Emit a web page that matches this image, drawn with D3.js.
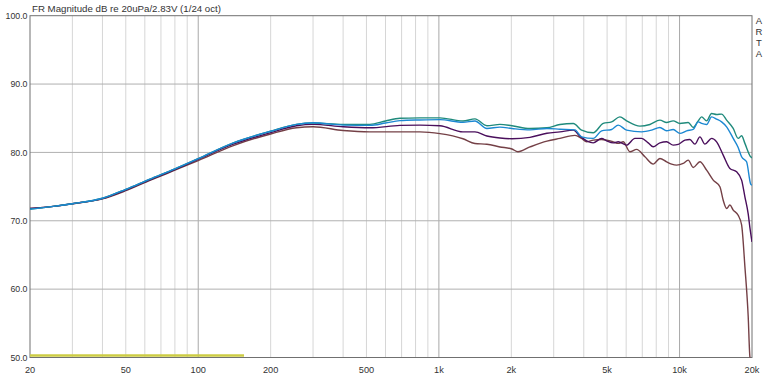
<!DOCTYPE html>
<html>
<head>
<meta charset="utf-8">
<script src="https://cdn.jsdelivr.net/npm/d3@7"></script>
<style>
  html, body { margin: 0; padding: 0; background: #fff; }
  svg { display: block; font-family: "Liberation Sans", Arial, sans-serif; }
</style>
</head>
<body>
<div id="chart"></div>
<script>
// frequency (Hz) / level (dB) pairs
const tealFreq  = [20, 25, 30, 40, 50, 63, 80, 100, 140, 200, 256, 300, 400, 517, 600, 689, 834, 1010, 1259, 1412, 1583, 1794, 2012, 2390, 2812, 3184, 3618, 3918, 4378, 4818, 5222, 5650, 6026, 6844, 7532, 8288, 8836, 9410, 10032, 10862, 11396, 11954, 12350, 12956, 13590, 14256, 14954, 15686, 16708, 17522, 18106, 18686, 19750, 20000];
const tealDb    = [71.7, 72.1, 72.5, 73.3, 74.6, 76.1, 77.6, 79.1, 81.4, 83.1, 84.1, 84.3, 84.1, 84.1, 84.6, 85.0, 85.05, 85.06, 84.6, 84.9, 83.9, 84.1, 83.9, 83.5, 83.6, 84.09, 84.24, 83.26, 82.87, 84.24, 84.47, 85.2, 84.62, 83.84, 84.09, 84.72, 84.38, 84.62, 84.24, 84.38, 83.65, 84.62, 85.2, 84.62, 85.7, 85.55, 85.6, 84.72, 83.51, 82.05, 82.43, 81.32, 79.36, 79.2];

const blueFreq  = [20, 25, 30, 40, 50, 63, 80, 100, 140, 200, 256, 300, 400, 517, 600, 689, 834, 1010, 1259, 1412, 1583, 1794, 2012, 2390, 2812, 3184, 3676, 3918, 4378, 4746, 5222, 5562, 6026, 6956, 7656, 8288, 8836, 9410, 10032, 10698, 11396, 11954, 12350, 12956, 13590, 14256, 14954, 15686, 16708, 17522, 18106, 18990, 19750, 20000];
const blueDb    = [71.7, 72.1, 72.5, 73.3, 74.6, 76.1, 77.6, 79.1, 81.4, 83.1, 84.1, 84.35, 84.0, 83.95, 84.3, 84.65, 84.75, 84.8, 84.4, 84.6, 83.5, 83.7, 83.5, 83.3, 83.5, 83.4, 83.3, 82.28, 82.05, 83.16, 83.36, 84.0, 83.26, 83.01, 83.26, 83.65, 83.16, 83.36, 82.78, 83.16, 83.36, 84.47, 84.24, 84.09, 85.2, 84.87, 84.47, 83.74, 82.05, 80.73, 79.36, 78.63, 75.37, 75.2];

const purpleFreq = [20, 25, 30, 40, 50, 63, 80, 100, 140, 200, 256, 300, 400, 517, 689, 834, 1010, 1259, 1412, 1583, 1794, 2012, 2390, 2812, 3184, 3618, 3855, 4110, 4378, 4746, 4978, 5302, 5562, 6026, 6524, 6956, 7410, 7772, 8288, 8836, 9410, 9872, 10524, 11042, 11584, 12150, 12746, 13590, 14256, 15184, 16188, 17258, 18106, 18686, 19286, 19604, 20000];
const purpleDb   = [71.8, 72.1, 72.5, 73.25, 74.5, 76.0, 77.5, 79.0, 81.2, 82.9, 83.9, 84.1, 83.75, 83.6, 83.95, 84.0, 83.9, 83.0, 83.0, 82.4, 82.1, 82.0, 82.2, 82.8, 83.0, 83.26, 82.38, 81.7, 81.4, 82.05, 81.7, 81.4, 81.55, 81.07, 82.05, 82.05, 81.4, 80.82, 81.4, 81.55, 81.07, 81.17, 81.8, 81.9, 81.21, 82.28, 81.21, 82.05, 81.55, 79.61, 77.66, 77.16, 75.95, 73.5, 71.0, 69.0, 66.9];

const brownFreq = [20, 25, 30, 40, 50, 63, 80, 100, 140, 200, 256, 300, 400, 517, 689, 834, 1010, 1259, 1412, 1583, 1794, 2012, 2130, 2390, 2812, 3184, 3676, 3918, 4110, 4378, 4746, 4978, 5302, 5562, 5832, 6220, 6632, 7180, 7772, 8288, 8836, 9268, 9722, 10354, 10862, 11396, 12150, 12956, 13800, 14712, 15184, 15686, 16188, 16708, 17522, 18106, 18686, 19286, 19604, 20000];
const brownDb   = [71.8, 72.1, 72.5, 73.2, 74.4, 75.9, 77.4, 78.8, 81.0, 82.7, 83.6, 83.75, 83.2, 83.0, 83.0, 83.0, 82.75, 82.0, 81.3, 81.2, 80.8, 80.5, 80.1, 80.8, 81.65, 82.05, 82.5, 82.05, 81.55, 81.8, 81.9, 81.8, 81.55, 81.32, 81.55, 80.09, 80.44, 79.36, 78.29, 79.12, 78.63, 78.29, 78.14, 78.39, 78.87, 77.8, 78.63, 77.41, 75.95, 74.97, 73.0, 71.8, 72.3, 71.56, 70.8, 69.4, 63.3, 56.0, 50.1, 49.0];

// yellow range marker along the bottom
const markerFreq = [20, 155];
const markerDb   = [50.3, 50.3];

const xTickValues = [20, 50, 100, 200, 500, 1000, 2000, 5000, 10000, 20000];
const xTickLabels = ['20', '50', '100', '200', '500', '1k', '2k', '5k', '10k', '20k'];
const yTickValues = [50, 60, 70, 80, 90, 100];

const title = 'FR Magnitude dB re 20uPa/2.83V (1/24 oct)';

let dim = { width: 768, height: 376 };
let margin = { top: 15.7, right: 16, bottom: 18.5, left: 30 };

let svg = d3.select('#chart')
    .append('svg')
    .attr('width', dim.width)
    .attr('height', dim.height);

let scaleX = d3.scaleLog()
    .domain([20, 20000])
    .range([margin.left, dim.width - margin.right]);

let scaleY = d3.scaleLinear()
    .domain([50, 100])
    .range([dim.height - margin.bottom, margin.top]);

// vertical grid: every 1..9 step of each decade
let gridFreqs = [];
[10, 100, 1000, 10000].forEach(dec => {
    for (let m = 1; m <= 9; m++) {
        let f = dec * m;
        if (f > 20 && f < 20000) gridFreqs.push(f);
    }
});

svg.append('g')
    .selectAll('line')
    .data(gridFreqs)
    .join('line')
    .attr('x1', d => scaleX(d)).attr('x2', d => scaleX(d))
    .attr('y1', scaleY(50)).attr('y2', scaleY(100))
    .attr('stroke', d => [100, 1000, 10000].includes(d) ? '#a8a8a8' : '#d6d6d6')
    .attr('stroke-width', 1);

// horizontal grid
svg.append('g')
    .selectAll('line')
    .data(yTickValues.filter(d => d > 50 && d < 100))
    .join('line')
    .attr('x1', scaleX(20)).attr('x2', scaleX(20000))
    .attr('y1', d => scaleY(d)).attr('y2', d => scaleY(d))
    .attr('stroke', '#b0b0b0')
    .attr('stroke-width', 1);

// frame
svg.append('rect')
    .attr('x', scaleX(20)).attr('y', scaleY(100))
    .attr('width', scaleX(20000) - scaleX(20))
    .attr('height', scaleY(50) - scaleY(100))
    .attr('fill', 'none')
    .attr('stroke', '#707070')
    .attr('stroke-width', 1);

svg.append('defs').append('clipPath').attr('id', 'plotclip')
    .append('rect')
    .attr('x', scaleX(20)).attr('y', scaleY(100))
    .attr('width', scaleX(20000) - scaleX(20))
    .attr('height', scaleY(50) - scaleY(100));

let line = d3.line()
    .curve(d3.curveMonotoneX)
    .x(d => scaleX(d[0]))
    .y(d => scaleY(d[1]));

let series = [
    { f: brownFreq,  db: brownDb,  color: '#744046' },
    { f: purpleFreq, db: purpleDb, color: '#4a0f5c' },
    { f: tealFreq,   db: tealDb,   color: '#1f8a7c' },
    { f: blueFreq,   db: blueDb,   color: '#1c88d2' }
];

let g = svg.append('g').attr('clip-path', 'url(#plotclip)');

g.append('path')
    .datum(markerFreq.map((f, i) => [f, markerDb[i]]))
    .attr('d', line)
    .attr('fill', 'none')
    .attr('stroke', '#cccc44')
    .attr('stroke-width', 2.5);

series.forEach(s => {
    g.append('path')
        .datum(s.f.map((f, i) => [f, s.db[i]]))
        .attr('d', line)
        .attr('fill', 'none')
        .attr('stroke', s.color)
        .attr('stroke-width', 1.4)
        .attr('stroke-linejoin', 'round');
});

// y labels
svg.append('g')
    .selectAll('text')
    .data(yTickValues)
    .join('text')
    .attr('x', scaleX(20) - 2.5)
    .attr('y', d => scaleY(d) + 3.3)
    .attr('text-anchor', 'end')
    .attr('font-size', 8.8)
    .attr('fill', '#333')
    .text(d => d.toFixed(1));

// x labels
svg.append('g')
    .selectAll('text')
    .data(xTickValues)
    .join('text')
    .attr('x', d => scaleX(d))
    .attr('y', 372.5)
    .attr('text-anchor', 'middle')
    .attr('font-size', 9.2)
    .attr('fill', '#333')
    .text((d, i) => xTickLabels[i]);

// title
svg.append('text')
    .attr('x', scaleX(20) + 2)
    .attr('y', 11.5)
    .attr('font-size', 9.7)
    .attr('fill', '#333')
    .text(title);

// stacked ARTA mark on the right, one text with a tspan per letter
svg.append('text')
    .attr('font-size', 9.5)
    .attr('fill', '#333')
    .attr('text-anchor', 'middle')
    .selectAll('tspan')
    .data('ARTA'.split(''))
    .join('tspan')
    .attr('x', scaleX(20000) + 7)
    .attr('y', (d, i) => 23.5 + i * 11.2)
    .text(d => d);
</script>
</body>
</html>
